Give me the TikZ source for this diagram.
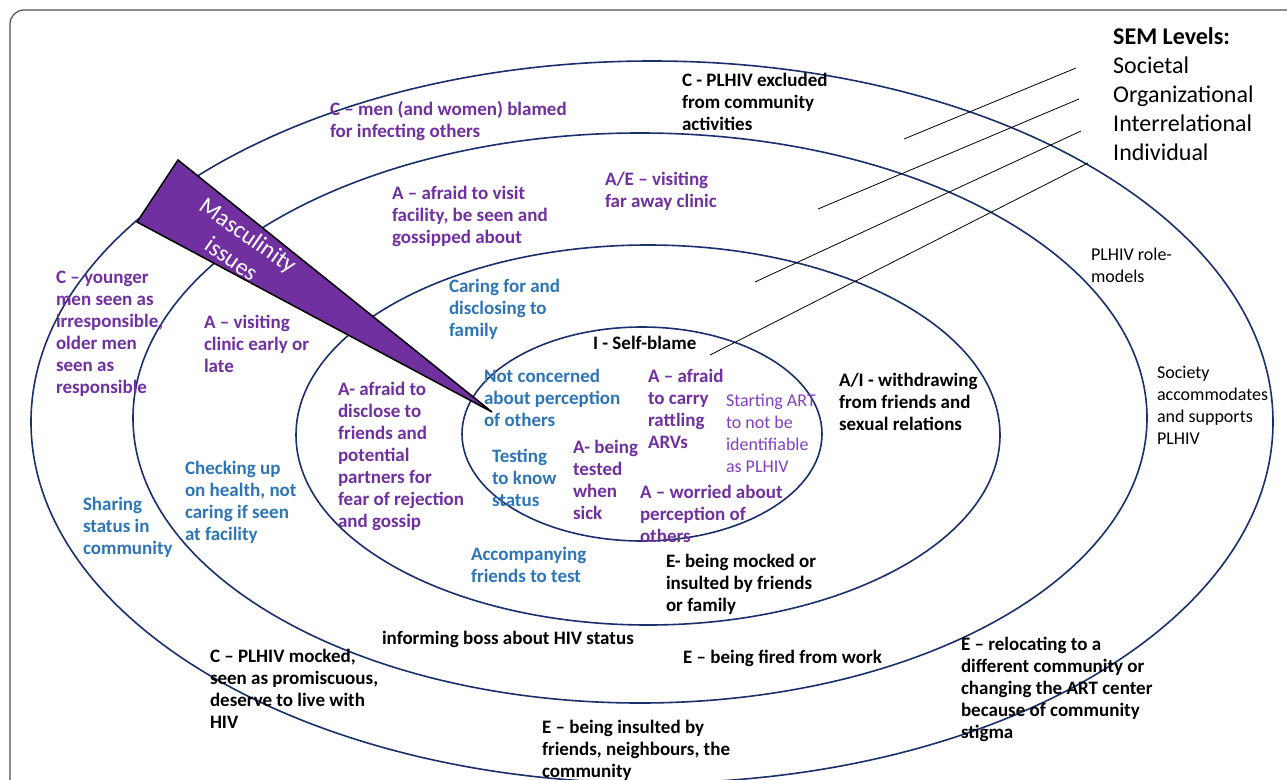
\documentclass[tikz,border=0pt]{standalone}
\usepackage{fontspec}
\setmainfont{Carlito}
\definecolor{purp}{HTML}{7030A0}
\definecolor{blu}{HTML}{2E75B6}
\definecolor{lpurp}{HTML}{8040BF}
\definecolor{navy}{HTML}{1A2F6B}
\newcommand\fl{\rule{0pt}{16pt}}
\newcommand\flb{\rule{0pt}{20pt}}
\begin{document}
\begin{tikzpicture}[x=1pt,y=-1pt,
 ring/.style={draw=navy,line width=1.6pt},
 lbl/.style={anchor=north west,inner sep=0pt,outer sep=0pt,align=left,font=\bfseries\fontsize{19}{22}\selectfont},
 pu/.style={lbl,text=purp},
 bl/.style={lbl,text=blu},
 bk/.style={lbl,text=black},
 rg/.style={lbl,font=\fontsize{18}{22}\selectfont},
 ptr/.style={draw=black,line width=0.8pt}]
\useasboundingbox (0,0) rectangle (1287,779);
\clip (0,0) rectangle (1287,779);
\fill[white] (0,0) rectangle (1287,779);
% frame
\draw[draw=black!70, line width=1.2pt, rounded corners=14pt] (10,820) -- (10,10) -- (1320,10);
% rings
\draw[ring] (652,422) ellipse [x radius=621pt, y radius=361pt];
\draw[ring] (640,418) ellipse [x radius=507pt, y radius=285pt];
\draw[ring] (648,435) ellipse [x radius=352pt, y radius=190pt];
\draw[ring] (642,434) ellipse [x radius=180pt, y radius=107pt];
% SEM pointer lines
\coordinate (s1) at (1076,68);  \coordinate (e1) at (904,139);
\coordinate (s2) at (1079,99);  \coordinate (e2) at (818,209);
\coordinate (s3) at (1081,131); \coordinate (e3) at (755,282);
\coordinate (s4) at (1088,163); \coordinate (e4) at (710,355);
\draw[ptr] (s1) -- (e1);
\draw[ptr] (s2) -- (e2);
\draw[ptr] (s3) -- (e3);
\draw[ptr] (s4) -- (e4);
% wedge
\draw[fill=purp, draw=black, line width=1.5pt, line join=miter] (178,160) -- (137,222) -- (492,412) -- cycle;
\node[rotate=-35, text=white, align=center, inner sep=0pt, font=\fontsize{24}{29}\selectfont] (masc) at (240,247) {Masculinity\\issues};
% SEM legend
\node[anchor=north west, inner sep=0pt, align=left, font=\fontsize{24}{29}\selectfont] (sem) at (1113,24) {\flb\textbf{SEM Levels:}\\Societal\\Organizational\\Interrelational\\Individual};
% labels
\node[pu] (menblamed) at (330,115-16) {\fl C – men (and women) blamed\\for infecting others};
\node[bk] (excluded) at (682,86-16) {\fl C - PLHIV excluded\\from community\\activities};
\node[pu] (afraidvisit) at (392,199-16) {\fl A – afraid to visit\\facility, be seen and\\gossipped about};
\node[pu] (faraway) at (605,185-16) {\fl A/E – visiting\\far away clinic};
\node[bl] (caring) at (449,292-16) {\fl Caring for and\\disclosing to\\family};
\node[pu] (younger) at (56,283-16) {\fl C – younger\\men seen as\\irresponsible,\\older men\\seen as\\responsible};
\node[pu] (visitclinic) at (204,328-16) {\fl A – visiting\\clinic early or\\late};
\node[pu] (disclose) at (338,395-16) {\fl A- afraid to\\disclose to\\friends and\\potential\\partners for\\fear of rejection\\and gossip};
\node[bl] (checking) at (185,474-16) {\fl Checking up\\on health, not\\caring if seen\\at facility};
\node[bl] (sharing) at (83,510-16) {\fl Sharing\\status in\\community};
\node[bk] (selfblame) at (593,349-16) {\fl I - Self-blame};
\node[bl] (notconc) at (484,382-16) {\fl Not concerned\\about perception\\of others};
\node[pu] (rattling) at (648,382-16) {\fl A – afraid\\to carry\\rattling\\ARVs};
\node[rg, text=lpurp] (starting) at (726,406-16) {\fl Starting ART\\to not be\\identifiable\\as PLHIV};
\node[bl] (testing) at (492,462-16) {\fl Testing\\to know\\status};
\node[pu] (beingtested) at (573,453-16) {\fl A- being\\tested\\when\\sick};
\node[pu] (worried) at (640,498-16) {\fl A – worried about\\perception of\\others};
\node[bk] (withdraw) at (839,386-16) {\fl A/I - withdrawing\\from friends and\\sexual relations};
\node[bl] (accomp) at (471,560-16) {\fl Accompanying\\friends to test};
\node[bk] (mockedfam) at (666,567-16) {\fl E- being mocked or\\insulted by friends\\or family};
\node[rg] (rolemodels) at (1091,260-16) {\fl PLHIV role-\\models};
\node[rg] (society) at (1157,378-16) {\fl Society\\accommodates\\and supports\\PLHIV};
\node[bk] (informing) at (382,644-16) {\fl informing boss about HIV status};
\node[bk] (plhivmocked) at (210,662-16) {\fl C – PLHIV mocked,\\seen as promiscuous,\\deserve to live with\\HIV};
\node[bk] (insulted) at (542,733-16) {\fl E – being insulted by\\friends, neighbours, the\\community};
\node[bk] (fired) at (683,663-16) {\fl E – being fired from work};
\node[bk] (relocating) at (961,650-16) {\fl E – relocating to a\\different community or\\changing the ART center\\because of community\\stigma};
\end{tikzpicture}
\end{document}
